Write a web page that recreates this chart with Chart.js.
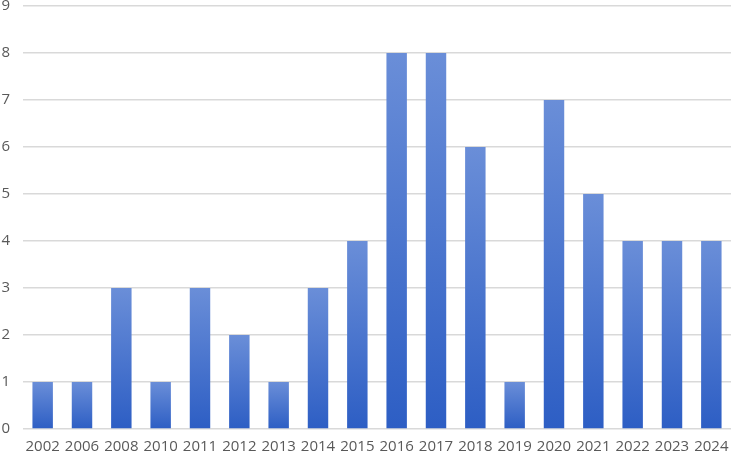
<!DOCTYPE html>
<html>
<head>
<meta charset="utf-8">
<script src="https://cdn.jsdelivr.net/npm/chart.js@4.4.0/dist/chart.umd.min.js"></script>
<style>
  html, body { margin: 0; padding: 0; background: #fff; }
  #wrap { width: 732px; height: 456px; }
</style>
</head>
<body>
<div id="wrap"><canvas id="grafica"></canvas></div>
<script>
var anios = ['2002','2006','2008','2010','2011','2012','2013','2014','2015','2016','2017','2018','2019','2020','2021','2022','2023','2024'];
var valores = [1, 1, 3, 1, 3, 2, 1, 3, 4, 8, 8, 6, 1, 7, 5, 4, 4, 4];
var ticksY = [0, 1, 2, 3, 4, 5, 6, 7, 8, 9];

// degradado por barra, claro arriba y oscuro abajo
function colorBarra(context) {
    var chart = context.chart;
    var area = chart.chartArea;
    if (!area || context.type !== 'data') return '#3c67c8';
    var y = chart.scales.y;
    var top = y.getPixelForValue(context.raw);
    var bottom = y.getPixelForValue(0);
    var g = chart.ctx.createLinearGradient(0, top, 0, bottom);
    g.addColorStop(0, '#6a8ed8');
    g.addColorStop(1, '#2d5ec4');
    return g;
}

var ctx = document.getElementById('grafica').getContext('2d');
var myChart = new Chart(ctx, {
    type: 'bar',
    data: {
        labels: anios,
        datasets: [{
            label: 'Cantidad',
            data: valores,
            backgroundColor: colorBarra,
            borderWidth: 0,
            barPercentage: 0.52,
            categoryPercentage: 1
        }]
    },
    options: {
        responsive: true,
        maintainAspectRatio: false,
        animation: false,
        layout: { padding: { left: 0, right: 1, top: 6, bottom: 0 } },
        scales: {
            x: {
                afterFit: function (scale) {
                    scale.height = 27;
                    scale.paddingLeft = 0;
                    scale.paddingRight = 0;
                },
                grid: { display: false },
                border: { display: false },
                ticks: {
                    color: '#595959',
                    font: { family: 'Open Sans', size: 15 },
                    padding: 1,
                    maxRotation: 0,
                    autoSkip: false
                }
            },
            y: {
                min: 0,
                max: 9,
                afterBuildTicks: function (scale) {
                    scale.ticks = ticksY.map(function (v) { return { value: v }; });
                },
                afterFit: function (scale) {
                    scale.width = 23;
                    scale.paddingTop = 0;
                    scale.paddingBottom = 0;
                },
                grid: { color: '#d9d9d9', lineWidth: 1.5, drawTicks: false },
                border: { display: false },
                ticks: {
                    color: '#595959',
                    font: { family: 'Open Sans', size: 15 },
                    padding: 13
                }
            }
        },
        plugins: {
            legend: { display: false },
            tooltip: { enabled: false }
        }
    }
});
</script>
</body>
</html>
